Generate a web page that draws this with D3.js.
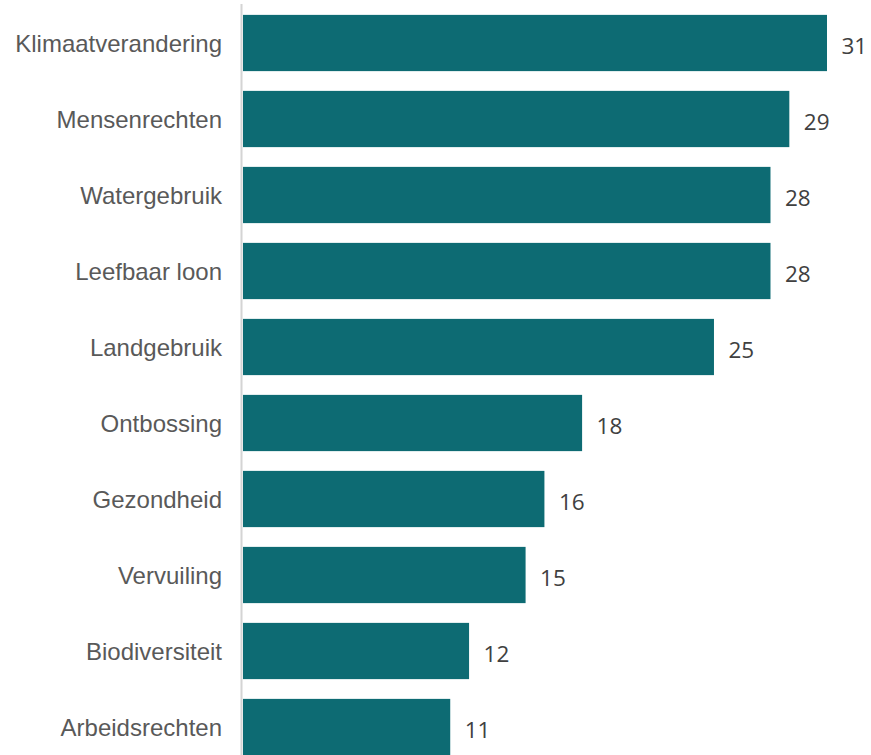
<!DOCTYPE html>
<html><head><meta charset="utf-8">
<script src="https://cdn.jsdelivr.net/npm/d3@7"></script>
<style>body{margin:0;background:#fff;} svg{display:block;}</style>
</head><body>
<svg id="chart" width="871" height="755"></svg>
<script>
const categories = ["Klimaatverandering","Mensenrechten","Watergebruik","Leefbaar loon","Landgebruik","Ontbossing","Gezondheid","Vervuiling","Biodiversiteit","Arbeidsrechten"];
const values = [31,29,28,28,25,18,16,15,12,11];

const svg = d3.select("#chart");
const x0 = 243;
const x = d3.scaleLinear().domain([0,31]).range([x0, 827]);
const y = d3.scaleBand().domain(categories).range([5, 765]).paddingInner(0.26).paddingOuter(0.13);

svg.append("line").attr("x1",241.5).attr("x2",241.5).attr("y1",4).attr("y2",755)
  .attr("stroke","#d4d4d4").attr("stroke-width",2);

svg.selectAll("rect.bar").data(values).join("rect").attr("class","bar")
  .attr("x", x(0)).attr("y",(d,i)=>y(categories[i]))
  .attr("width", d=>x(d)-x(0)).attr("height", y.bandwidth())
  .attr("fill","#0d6b73");

svg.selectAll("text.cat").data(categories).join("text").attr("class","cat")
  .attr("x",222).attr("y",d=>y(d)+y.bandwidth()/2+1).attr("dy","0.35em")
  .attr("text-anchor","end").attr("font-family","Liberation Sans, Arial, sans-serif")
  .attr("font-size",24).attr("fill","#595959").text(d=>d);

svg.selectAll("text.val").data(values).join("text").attr("class","val")
  .attr("x",d=>x(d)+14.5).attr("y",(d,i)=>y(categories[i])+y.bandwidth()/2+3).attr("dy","0.35em")
  .attr("font-family","Open Sans, sans-serif")
  .attr("font-size",22.5).attr("fill","#404040").text(d=>d);
</script>
</body></html>
